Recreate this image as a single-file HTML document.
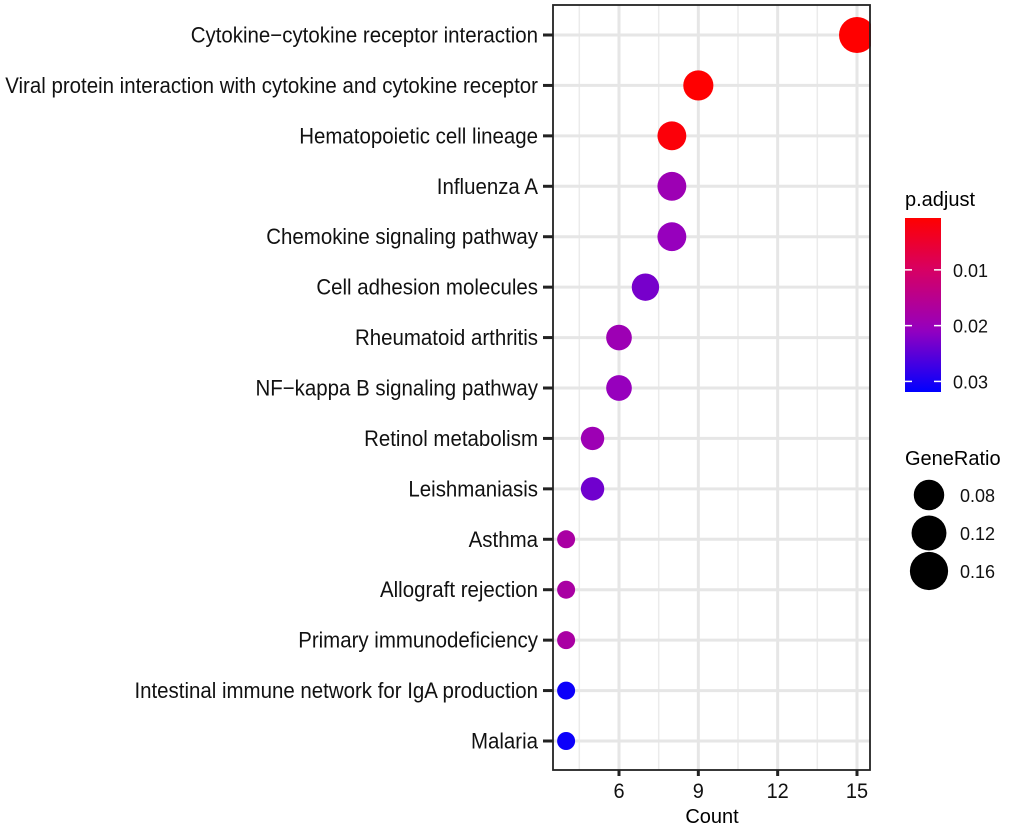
<!DOCTYPE html>
<html><head><meta charset="utf-8"><style>
html,body{margin:0;padding:0;background:#fff;}
svg{display:block;font-family:"Liberation Sans",Arial,sans-serif;}
</style></head><body>
<svg id="chart" width="1020" height="833" viewBox="0 0 1020 833" xmlns="http://www.w3.org/2000/svg">
<g id="grid"></g>
<g id="marks"></g>
<g id="axes"></g>
<g id="legend"></g>
</svg>
<script>
const categories = ["Cytokine−cytokine receptor interaction","Viral protein interaction with cytokine and cytokine receptor","Hematopoietic cell lineage","Influenza A","Chemokine signaling pathway","Cell adhesion molecules","Rheumatoid arthritis","NF−kappa B signaling pathway","Retinol metabolism","Leishmaniasis","Asthma","Allograft rejection","Primary immunodeficiency","Intestinal immune network for IgA production","Malaria"];
const counts = [15,9,8,8,8,7,6,6,5,5,4,4,4,4,4];
const padj = [0.0006,0.0008,0.0015,0.0195,0.0205,0.023,0.0195,0.0205,0.0195,0.0235,0.0175,0.0175,0.0175,0.031,0.031];
const xTicks = [6,9,12,15];
const pTicks = [0.01,0.02,0.03];
const ratioTicks = [0.08,0.12,0.16];
const totalGenes = 88;

const NS="http://www.w3.org/2000/svg";
function mk(tag,attrs,parent,text){const e=document.createElementNS(NS,tag);for(const k in attrs)e.setAttribute(k,attrs[k]);if(text!==undefined)e.textContent=text;parent.appendChild(e);return e;}
const L=553,R=870,T=5,B=770;
function xs(v){return 619+(v-6)*(857-619)/9;}
const rowTop=35,rowStep=(741-35)/14;
function ys(i){return rowTop+i*rowStep;}
function rs(c){return 9+9*Math.sqrt(Math.max(0,c-4)/11);}
const pLo=0.0007,pHi=0.0319;
const cStops=[[0,255,0,0],[0.3,215,0,100],[0.64,150,0,190],[1,0,0,255]];
function col(p){let t=(p-pLo)/(pHi-pLo);t=Math.max(0,Math.min(1,t));
 for(let k=0;k<cStops.length-1;k++){const a=cStops[k],b=cStops[k+1];
  if(t<=b[0]){const f=(t-a[0])/(b[0]-a[0]);
   return `rgb(${Math.round(a[1]+(b[1]-a[1])*f)},${Math.round(a[2]+(b[2]-a[2])*f)},${Math.round(a[3]+(b[3]-a[3])*f)})`;}}
 return 'rgb(0,0,255)';}

const grid=document.getElementById('grid'),marks=document.getElementById('marks'),axes=document.getElementById('axes'),legend=document.getElementById('legend');
mk('rect',{x:L,y:T,width:R-L,height:B-T,fill:'#fff'},grid);
for(let i=0;i<xTicks.length;i++){const m=xTicks[i]-1.5;const e=mk('line',{x1:xs(m),x2:xs(m),y1:T,y2:B,stroke:'#EBEBEB','stroke-width':1.5},grid);

}
xTicks.forEach(v=>{const e=mk('line',{x1:xs(v),x2:xs(v),y1:T,y2:B,stroke:'#E6E6E6','stroke-width':3},grid);

});
categories.forEach((c,i)=>{const e=mk('line',{x1:L,x2:R,y1:ys(i),y2:ys(i),stroke:'#E6E6E6','stroke-width':3},grid);

});
categories.forEach((c,i)=>{const e=mk('circle',{cx:xs(counts[i]),cy:ys(i),r:rs(counts[i]),fill:col(padj[i])},marks);

});
mk('rect',{x:R+1,y:0,width:30,height:B+2,fill:'#fff'},axes);
mk('rect',{x:L,y:T,width:R-L,height:B-T,fill:'none',stroke:'#222','stroke-width':1.8},axes);
categories.forEach((c,i)=>{mk('line',{x1:543,x2:L,y1:ys(i),y2:ys(i),stroke:'#222','stroke-width':3},axes);
const t=mk('text',{x:0,y:0,'text-anchor':'end','font-size':22,fill:'#111',transform:`translate(538,${ys(i)+7.5}) scale(0.93,1)`},axes,c);

});
xTicks.forEach(v=>{mk('line',{x1:xs(v),x2:xs(v),y1:B,y2:B+6,stroke:'#222','stroke-width':3},axes);
const t=mk('text',{x:0,y:0,'text-anchor':'middle','font-size':21,fill:'#111',transform:`translate(${xs(v)},${B+28}) scale(0.95,1)`},axes,String(v));

});
const xt=mk('text',{x:712,y:823,'text-anchor':'middle','font-size':20,fill:'#000'},axes,'Count');


const lt=mk('text',{x:905,y:206,'font-size':20,fill:'#000'},legend,'p.adjust');


const defs=mk('defs',{},legend);
const gr=mk('linearGradient',{id:'cb',x1:0,y1:0,x2:0,y2:1},defs);
for(let k=0;k<=20;k++){const p=pLo+(pHi-pLo)*k/20;mk('stop',{offset:(k*5)+'%','stop-color':col(p)},gr);}
const cbT=218,cbB=392;
function ps(p){return cbT+(p-pLo)/(pHi-pLo)*(cbB-cbT);}
const cb=mk('rect',{x:905,y:cbT,width:36,height:cbB-cbT,fill:'url(#cb)'},legend);


pTicks.forEach(p=>{const y=ps(p);mk('line',{x1:905,x2:912,y1:y,y2:y,stroke:'#fff','stroke-width':1.5},legend);mk('line',{x1:934,x2:941,y1:y,y2:y,stroke:'#fff','stroke-width':1.5},legend);
const t=mk('text',{x:953,y:y+7,'font-size':18,fill:'#111'},legend,p.toFixed(2));

});
const st=mk('text',{x:905,y:465,'font-size':20,fill:'#000'},legend,'GeneRatio');


ratioTicks.forEach((r,k)=>{const y=495+k*38;const c=r*totalGenes;
const e=mk('circle',{cx:929,cy:y,r:rs(c)+1.5,fill:'#000'},legend);


const t=mk('text',{x:960,y:y+7,'font-size':18,fill:'#111'},legend,r.toFixed(2));

});
</script>
</body></html>
